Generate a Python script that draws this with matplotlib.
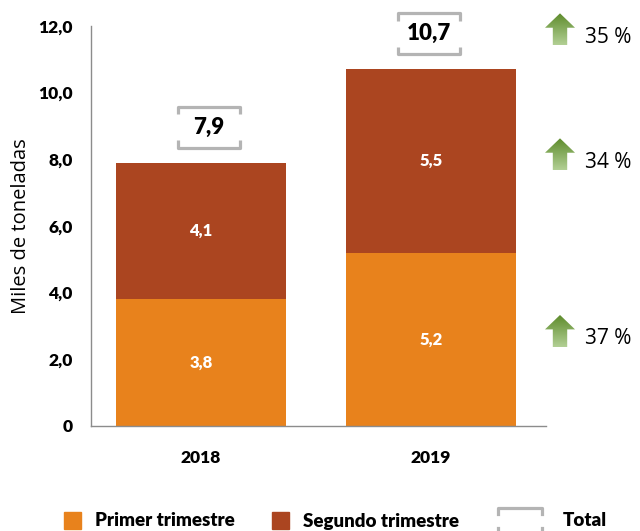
import numpy as np
import matplotlib
matplotlib.use("Agg")
import matplotlib.pyplot as plt
from matplotlib.patches import Rectangle, Polygon
from matplotlib.lines import Line2D

plt.rcParams['font.family'] = ['Lato', 'DejaVu Sans']

# datos
anios = ['2018', '2019']
primer = [3.8, 5.2]
segundo = [4.1, 5.5]
total = [7.9, 10.7]
variacion = ['35 %', '34 %', '37 %']
variacion_y = [11.9, 8.15, 2.85]

naranja = '#E8821C'
marron = '#AB4520'
gris = '#B4B4B4'

W, H = 640, 531
fig = plt.figure(figsize=(6.4, 5.31), dpi=100)

def fx(px):
    return px / W

def fy(py):
    return 1 - py / H

ax = fig.add_axes([fx(91), fy(426), fx(546) - fx(91), fy(26) - fy(426)])
x = np.arange(len(anios))
ancho = 0.74
ax.bar(x, primer, ancho, color=naranja)
ax.bar(x, segundo, ancho, bottom=primer, color=marron)

for i in range(len(anios)):
    ax.text(x[i], primer[i] / 2, f'{primer[i]:.1f}'.replace('.', ','),
            ha='center', va='center', color='white', fontsize=12, fontweight='heavy')
    ax.text(x[i], primer[i] + segundo[i] / 2, f'{segundo[i]:.1f}'.replace('.', ','),
            ha='center', va='center', color='white', fontsize=12, fontweight='heavy')

# corchetes del total
for i in range(len(anios)):
    c = x[i] + (0.035 if i == 0 else -0.01)
    hw = 0.135
    y0 = total[i] + 0.45
    y1 = total[i] + 1.68
    t = 0.22
    kw = dict(color=gris, lw=2.3, clip_on=False, solid_capstyle='butt')
    ax.plot([c - hw, c - hw, c + hw, c + hw], [y1 - t, y1, y1, y1 - t], **kw)
    ax.plot([c - hw, c - hw, c + hw, c + hw], [y0 + t, y0, y0, y0 + t], **kw)
    ax.text(c, (y0 + y1) / 2, f'{total[i]:.1f}'.replace('.', ','),
            ha='center', va='center', fontsize=16, fontweight='heavy', color='black')

ax.set_xlim(-0.478, 1.5)
ax.set_ylim(0, 12)
ax.set_xticks(x)
ax.set_xticklabels(anios, fontsize=12.5, fontweight='heavy')
ax.set_yticks(np.arange(0, 13, 2))
ax.set_yticklabels(['0'] + [f'{v:.1f}'.replace('.', ',') for v in np.arange(2, 13, 2)],
                   fontsize=12.5, fontweight='heavy')
ax.tick_params(length=0, pad=13)
ax.tick_params(axis='x', pad=17)
for s in ['top', 'right']:
    ax.spines[s].set_visible(False)
for s in ['left', 'bottom']:
    ax.spines[s].set_color('#8C8C8C')
    ax.spines[s].set_linewidth(1)
ax.set_ylabel('Miles de toneladas', fontsize=14.5, labelpad=5, family=['Open Sans', 'DejaVu Sans'])

# flechas verdes
grad = np.linspace(0, 1, 64).reshape(-1, 1)
cmap = matplotlib.colors.LinearSegmentedColormap.from_list('g', ['#5E8C2C', '#B2CF94'])
for lab, yv in zip(variacion, variacion_y):
    yc = fy(426) + yv / 12 * (fy(26) - fy(426))
    aw, ah = fx(30), 32 / H
    aa = fig.add_axes([fx(545), yc - ah / 2, aw, ah])
    aa.set_axis_off()
    im = aa.imshow(grad, cmap=cmap, aspect='auto', extent=[0, 1, 0, 1], origin='upper')
    poly = Polygon([[0, 0.55], [0.5, 1], [1, 0.55], [0.74, 0.55], [0.74, 0],
                    [0.26, 0], [0.26, 0.55]], closed=True, transform=aa.transAxes,
                   facecolor='none', edgecolor='none')
    aa.add_patch(poly)
    im.set_clip_path(poly)
    aa.set_xlim(0, 1)
    aa.set_ylim(0, 1)
    fig.text(fx(585), yc - 8 / H, lab, ha='left', va='center', fontsize=15,
             family=['Open Sans', 'DejaVu Sans'])

# leyenda
ly = 521
fs = 13.5
fig.add_artist(Rectangle((fx(64), fy(529)), fx(17), 17 / H, color=naranja, transform=fig.transFigure))
fig.text(fx(95), fy(ly), 'Primer trimestre', ha='left', va='center', fontsize=fs, fontweight='heavy')
fig.add_artist(Rectangle((fx(272), fy(529)), fx(17), 17 / H, color=marron, transform=fig.transFigure))
fig.text(fx(303), fy(ly), 'Segundo trimestre', ha='left', va='center', fontsize=fs, fontweight='heavy')
fig.add_artist(Line2D([fx(498), fx(498), fx(542), fx(542)], [fy(514), fy(508), fy(508), fy(514)],
                      color=gris, lw=2.3, transform=fig.transFigure))
fig.add_artist(Line2D([fx(498), fx(498)], [fy(531), fy(528)], color=gris, lw=2.3, transform=fig.transFigure))
fig.add_artist(Line2D([fx(542), fx(542)], [fy(531), fy(528)], color=gris, lw=2.3, transform=fig.transFigure))
fig.text(fx(563), fy(ly), 'Total', ha='left', va='center', fontsize=fs, fontweight='heavy')

fig.savefig('out.png', dpi=100)
